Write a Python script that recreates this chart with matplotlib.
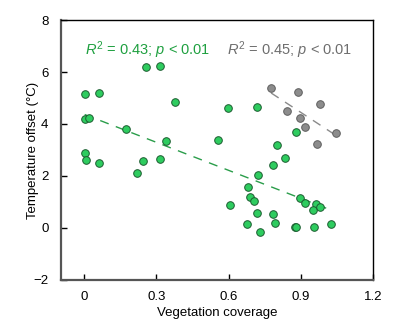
import numpy as np
import matplotlib
matplotlib.use('Agg')
import matplotlib.pyplot as plt

plt.rcParams['font.family'] = ['Liberation Sans', 'DejaVu Sans']
plt.rcParams['mathtext.fontset'] = 'custom'
plt.rcParams['mathtext.rm'] = 'Liberation Sans'
plt.rcParams['mathtext.it'] = 'Liberation Sans:italic'

# green group (vegetation coverage vs temperature offset)
greenX = [0.257, 0.315, 0.002, 0.061, 0.376, 0.002, 0.018, 0.172, 0.342, 0.002,
          0.008, 0.060, 0.246, 0.317, 0.219, 0.596, 0.719, 0.558, 0.880, 0.802,
          0.836, 0.783, 0.721, 0.681, 0.688, 0.708, 0.607, 0.717, 0.786, 0.678,
          0.795, 0.730, 0.876, 0.880, 0.957, 1.028, 0.899, 0.918, 0.963, 0.953,
          0.981]
greenY = [6.19, 6.22, 5.17, 5.20, 4.83, 4.20, 4.24, 3.82, 3.33, 2.90,
          2.60, 2.50, 2.59, 2.67, 2.12, 4.63, 4.65, 3.38, 3.70, 3.20,
          2.69, 2.44, 2.03, 1.59, 1.19, 1.05, 0.87, 0.59, 0.55, 0.15,
          0.19, -0.15, 0.04, 0.04, 0.04, 0.17, 1.17, 0.96, 0.91, 0.69,
          0.81]

# gray group
grayX = [0.777, 0.887, 0.979, 0.842, 0.899, 0.920, 1.046, 0.967]
grayY = [5.38, 5.23, 4.78, 4.51, 4.22, 3.88, 3.67, 3.22]

xTicks = [0, 0.3, 0.6, 0.9, 1.2]
yTicks = [-2, 0, 2, 4, 6, 8]

greenFace = '#2ecc5f'
greenEdge = '#1c5c30'
greenText = '#1fa040'
grayFace = '#8c8c8c'
grayEdge = '#5e5e5e'
grayText = '#6e6e6e'

fig = plt.figure(figsize=(4.17, 3.34), dpi=100)
ax = fig.add_axes([0.146, 0.162, 0.748, 0.778])

# regression lines
for xs, ys, col in [(greenX, greenY, '#2a9d4a'), (grayX, grayY, '#8a8a8a')]:
    xs = np.array(xs)
    k, b = np.polyfit(xs, ys, 1)
    xl = np.array([xs.min(), xs.max()])
    ax.plot(xl, k * xl + b, color=col, lw=1, dashes=(6.5, 5.5), zorder=2)

ax.scatter(greenX, greenY, s=30, c=greenFace, edgecolors=greenEdge, linewidths=0.7, zorder=3)
ax.scatter(grayX, grayY, s=30, c=grayFace, edgecolors=grayEdge, linewidths=0.7, zorder=3)

ax.text(0.005, 6.85, r'$R^2$ = 0.43; $p$ < 0.01', color=greenText, fontsize=10.5,
        va='center', ha='left')
ax.text(0.593, 6.85, r'$R^2$ = 0.45; $p$ < 0.01', color=grayText, fontsize=10.5,
        va='center', ha='left')

ax.set_xlim(-0.097, 1.2)
ax.set_ylim(-2, 8)
ax.set_xticks(xTicks)
ax.set_xticklabels(['0', '0.3', '0.6', '0.9', '1.2'])
ax.set_yticks(yTicks)
ax.tick_params(direction='in', length=4, width=1, labelsize=9.5)
ax.tick_params(axis='x', pad=8)
ax.tick_params(axis='y', pad=9)

ax.set_xlabel('Vegetation coverage', fontsize=9.5, labelpad=3)
ax.set_ylabel('Temperature offset (\u00b0C)', fontsize=9.5, labelpad=-4)

for side in ['left', 'bottom']:
    ax.spines[side].set_color('#555555')
    ax.spines[side].set_linewidth(1.6)
for side in ['top', 'right']:
    ax.spines[side].set_color('black')
    ax.spines[side].set_linewidth(1.0)

fig.savefig('out.png', dpi=100)
